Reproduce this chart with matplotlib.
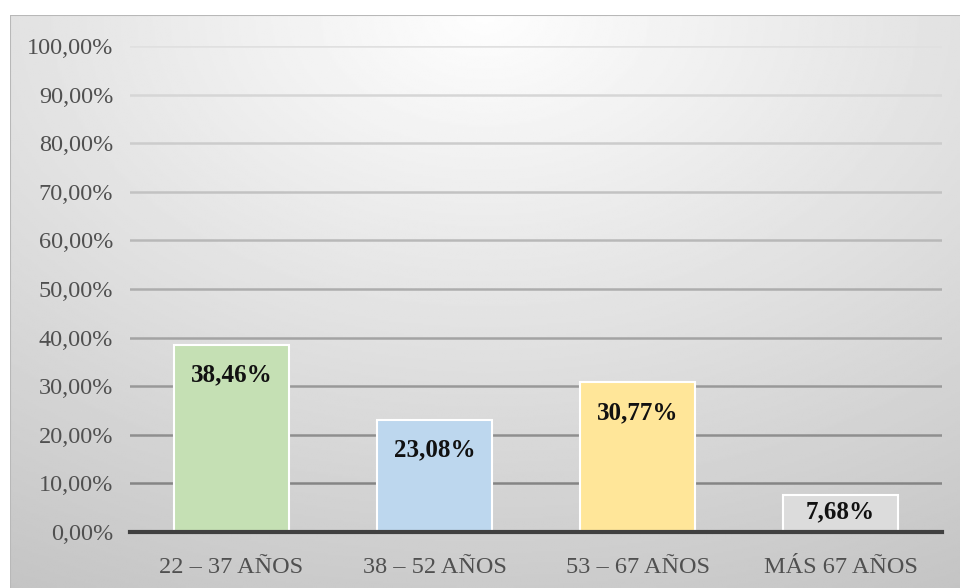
import numpy as np
from matplotlib import pyplot as plt

categories = ['22 – 37 AÑOS', '38 – 52 AÑOS', '53 – 67 AÑOS', 'MÁS 67 AÑOS']
values = [38.46, 23.08, 30.77, 7.68]
labels = ['38,46%', '23,08%', '30,77%', '7,68%']
colors = ['#c5e0b4', '#bdd7ee', '#ffe699', '#dcdcdc']
yticks = [0, 10, 20, 30, 40, 50, 60, 70, 80, 90, 100]

plt.rcParams['font.family'] = ['Liberation Serif', 'DejaVu Serif']

fig = plt.figure(figsize=(9.6, 5.88), dpi=100)

# fondo con degradado radial (como el estilo de Excel)
bg = fig.add_axes([10 / 960, 0, 950 / 960, 573 / 588])
yy, xx = np.mgrid[0:1:300j, 0:1:500j]
r = np.sqrt(((xx - 0.5) * 1.0) ** 2 + ((yy - 0.0) * 0.9) ** 2)
shade = np.clip(0.995 - 0.22 * r, 0, 1)
bg.imshow(shade, cmap='gray', vmin=0, vmax=1, aspect='auto', extent=[0, 1, 0, 1])
bg.set_axis_off()
bg.add_line(plt.Line2D([0, 0, 1], [0, 1, 1], transform=bg.transAxes, color='#b8b8b8', lw=1.5))

ax = fig.add_axes([130 / 960, 56 / 588, 812 / 960, 486 / 588])
ax.patch.set_alpha(0)
x = np.arange(len(categories))
ax.bar(x, values, width=0.565, color=colors, edgecolor='white', linewidth=1.5, zorder=3)

for xi, v, lab in zip(x, values, labels):
    if v > 15:
        ax.text(xi, v - 6.2, lab, ha='center', va='center', fontsize=18, fontweight='bold', color='#111111', zorder=4)
    else:
        ax.text(xi, v / 2 + 0.3, lab, ha='center', va='center', fontsize=18, fontweight='bold', color='#111111', zorder=4)

# líneas de división más claras arriba, más oscuras abajo
for t in yticks[1:]:
    g = 0.52 + 0.36 * (t - 10) / 90
    ax.axhline(t, color=(g, g, g), linewidth=1.8, zorder=1)

ax.set_xlim(-0.5, len(categories) - 0.5)
ax.set_ylim(0, 100)
ax.set_yticks(yticks)
ax.set_yticklabels(['%d,00%%' % t for t in yticks], fontsize=17.5, color='#505050')
ax.set_xticks(x)
ax.set_xticklabels(categories, fontsize=17.5, color='#505050')
ax.tick_params(length=0, pad=12)
ax.tick_params(axis='x', pad=18)
for s in ['top', 'right', 'left']:
    ax.spines[s].set_visible(False)
ax.spines['bottom'].set_color('#404040')
ax.spines['bottom'].set_linewidth(3)
ax.spines['bottom'].set_zorder(5)

fig.savefig('out.png', dpi=100)
